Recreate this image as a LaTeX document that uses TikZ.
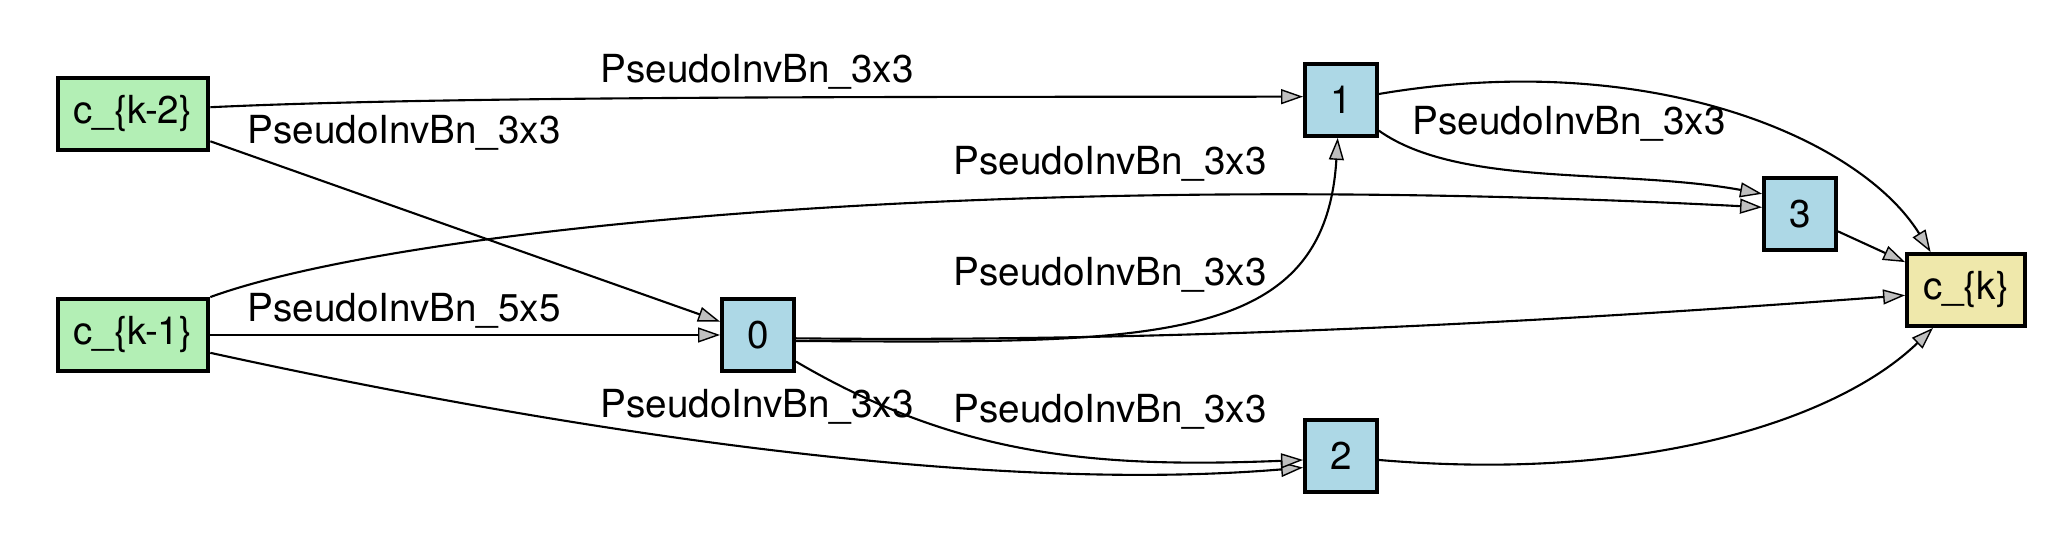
\documentclass[tikz,border=0pt]{standalone}
\usepackage{fontspec}
\setsansfont{TeX Gyre Heros}
\usetikzlibrary{arrows.meta}

\definecolor{ingreen}{HTML}{B3EFB5}
\definecolor{opblue}{HTML}{ADD8E6}
\definecolor{outyellow}{HTML}{EFE8AB}

\begin{document}
\begin{tikzpicture}[
    font=\sffamily\fontsize{11}{13}\selectfont,
    box/.style={draw, line width=1.1pt, minimum height=0.72cm, minimum width=0.72cm, inner xsep=0.16cm, inner ysep=0},
    input/.style={box, fill=ingreen},
    op/.style={box, fill=opblue},
    output/.style={box, fill=outyellow},
    lbl/.style={inner sep=0},
    edge/.style={line width=0.6pt, -{Triangle[length=0.22cm, width=0.15cm, fill=lightgray, line width=0.4pt]}}
]
\useasboundingbox (0, 0) rectangle (20.48, 5.38);

\node[input] (km2) at (1.33, 4.24) {c\_\{k-2\}};
\node[input] (km1) at (1.33, 2.03) {c\_\{k-1\}};
\foreach\n/\x/\y in {0/7.58/2.03, 1/13.41/4.38, 2/13.41/0.82, 3/18.00/3.24}{
    \node[op] (n\n) at (\x, \y) {\n};
}
\node[output] (k) at (19.66, 2.48) {c\_\{k\}};

\foreach\x/\y/\t[count=\i] in {7.57/4.66/3x3, 4.04/4.05/3x3, 4.04/2.27/5x5, 11.10/3.74/3x3,
    11.10/2.63/3x3, 7.57/1.31/3x3, 11.10/1.26/3x3, 15.69/4.14/3x3}{
    \node[lbl] (l\i) at (\x, \y) {PseudoInvBn\_\t};
}

\draw[edge] (km2.5) .. controls (4.5, 4.42) and (9, 4.41) .. (n1.175);
\draw[edge] (km2) -- (n0);
\draw[edge] (km1) -- (n0);
\draw[edge] (km1.north east) .. controls (4, 3.1) and (10, 3.7) .. (n3.170);
\draw[edge] (km1.-13) .. controls (6, 1.0) and (10, 0.45) .. (n2.197);
\draw[edge] (n0.-9) .. controls (11.5, 1.95) and (13.25, 1.9) .. (n1.-95);
\draw[edge] (n0.-5) .. controls (12, 1.95) and (16, 2.2) .. (k.185);
\draw[edge] (n0.-35) .. controls (9.6, 0.8) and (11, 0.7) .. (n2.186);
\draw[edge] (n1.-39) .. controls (14.6, 3.5) and (16.2, 3.7) .. (n3.152);
\draw[edge] (n1.9) .. controls (16.5, 4.9) and (18.6, 4.0) .. (k.133);
\draw[edge] (n3) -- (k);
\draw[edge] (n2.-6) .. controls (16.5, 0.55) and (18.4, 1.2) .. (k.-131);

\end{tikzpicture}
\end{document}
